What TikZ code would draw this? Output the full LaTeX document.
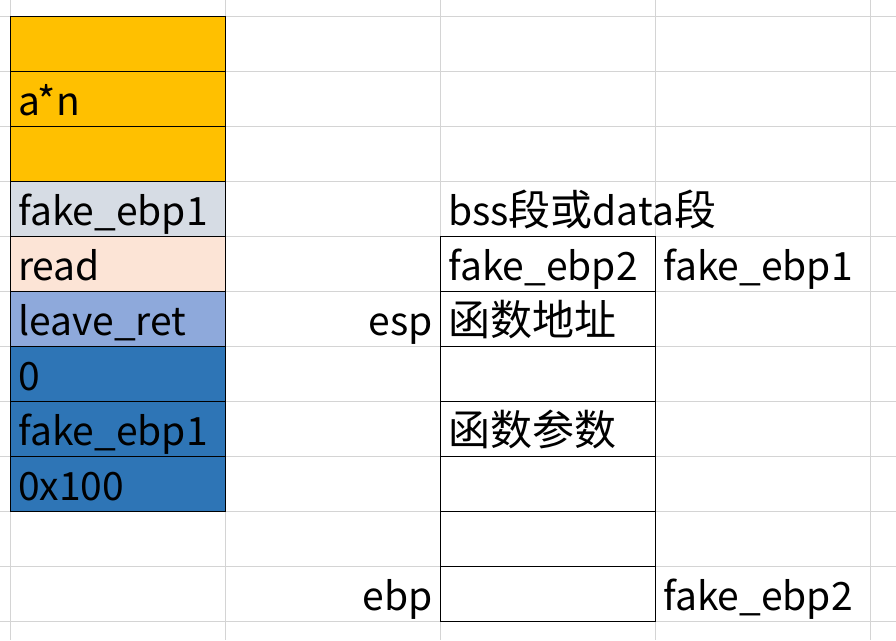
\documentclass[tikz,border=0pt]{standalone}
\usepackage{fontspec}
\setmainfont{Noto Sans CJK SC}
\newcommand\zhbig[1]{{\fontsize{42}{44}\selectfont #1}}
\definecolor{orng}{HTML}{FFC000}
\definecolor{grayblue}{HTML}{D6DCE4}
\definecolor{peach}{HTML}{FCE4D6}
\definecolor{lblue}{HTML}{8EA9DB}
\definecolor{dblue}{HTML}{2E75B6}
\definecolor{gridc}{HTML}{D4D4D4}
\begin{document}
\begin{tikzpicture}[x=1pt,y=-1pt,
  gridline/.style={draw=gridc,line width=1pt},
  cellborder/.style={draw=black,line width=1pt},
  txt/.style={anchor=base west,inner sep=0pt,font=\fontsize{39}{41}\selectfont},
  rtxt/.style={anchor=base east,inner sep=0pt,font=\fontsize{39}{41}\selectfont}]
\useasboundingbox (0,0) rectangle (896,640);
\fill[white] (0,0) rectangle (896,640);
% spreadsheet grid
\foreach \y in {16,71,126,181,236,291,346,401,456,511,566,621}
  \draw[gridline] (0,\y) -- (896,\y);
\foreach \x in {10.5,225.5,440.5,655.5,870.5}
  \draw[gridline] (\x,0) -- (\x,640);
% left column fills
\foreach \i/\c in {0/orng,1/orng,2/orng,3/grayblue,4/peach,5/lblue,6/dblue,7/dblue,8/dblue}
  \fill[\c] (10.5,16+55*\i) rectangle (225.5,71+55*\i);
% left column borders
\foreach \i in {0,...,8}
  \draw[cellborder] (10.5,16+55*\i) rectangle (225.5,71+55*\i);
% middle column borders
\foreach \i in {4,...,10}
  \draw[cellborder] (440.5,16+55*\i) rectangle (655.5,71+55*\i);
% left column texts
\node[txt] (an) at (18,115) {a*n};
\node[txt] (l1) at (18,225) {fake\_ebp1};
\node[txt] (l2) at (18,280) {read};
\node[txt] (l3) at (18,335) {leave\_ret};
\node[txt] (l4) at (18,390) {0};
\node[txt] (l5) at (18,445) {fake\_ebp1};
\node[txt] (l6) at (18,500) {0x100};
% right part texts
\node[txt] (bss) at (448,225) {bss\zhbig{段或}data\zhbig{段}};
\node[txt] (m1) at (448,280) {fake\_ebp2};
\node[txt] (r1) at (663,280) {fake\_ebp1};
\node[rtxt] (esp) at (433,335) {esp};
\node[txt] (m2) at (448,335) {\zhbig{函数地址}};
\node[txt] (m3) at (448,445) {\zhbig{函数参数}};
\node[rtxt] (ebp) at (433,610) {ebp};
\node[txt] (r2) at (663,610) {fake\_ebp2};
\end{tikzpicture}
\end{document}
